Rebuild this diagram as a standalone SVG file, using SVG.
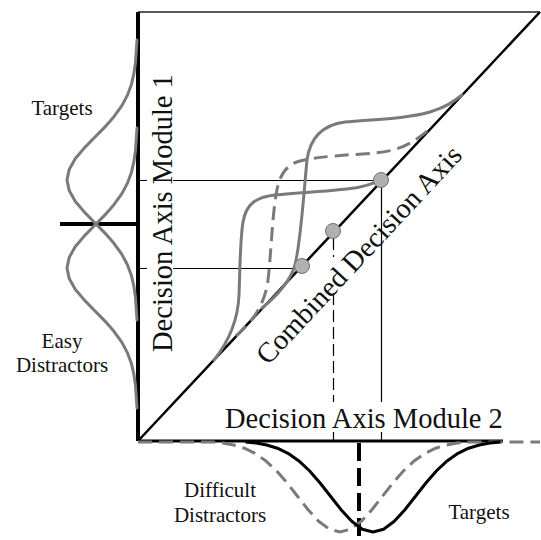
<svg xmlns="http://www.w3.org/2000/svg" width="541" height="540" viewBox="0 0 541 540">
<style>
.g{fill:none;stroke:#7a7a7a;stroke-width:3;stroke-linejoin:round;stroke-linecap:round}
.gd{fill:none;stroke:#7a7a7a;stroke-width:3;stroke-dasharray:14 7}
.thin{fill:none;stroke:#000;stroke-width:1.2}
.lbl{font-family:"Liberation Serif","Times New Roman",serif;fill:#111}
.s{font-size:21px}
.L{font-size:28.5px}
.dot{fill:#b0b0b0;stroke:#707070;stroke-width:1}
</style>
<rect width="541" height="540" fill="#fff"/>
<g id="guides">
<path class="thin" d="M138,180.5H381M138,268.5H302"/>
<path class="thin" d="M381.5,180V441"/>
<path class="thin" d="M333.5,238V257M333.5,293V441" stroke-dasharray="12 5"/>
</g>
<g id="frame">
<path d="M138,12H540" stroke="#222" stroke-width="1.5" fill="none"/>
<path d="M138,441L540,12" stroke="#000" stroke-width="2.5" fill="none"/>
<path d="M138,12V441" stroke="#000" stroke-width="4" fill="none"/>
<path d="M138,441H503" stroke="#000" stroke-width="3" fill="none"/>
<path d="M60,224H138" stroke="#000" stroke-width="4" fill="none"/>
<path d="M359,443V540" stroke="#000" stroke-width="4" stroke-dasharray="18 7" fill="none"/>
</g>
<g id="left-distributions">
<polyline id="targets-left" class="g" points="137,40 136.2,52.5 135.4,63.1 133.9,73.7 131.4,84.4 127.5,95 121.9,105.6 114.3,116.2 105,126.9 94.5,137.5 84.2,148.1 75.2,158.7 69.2,169.4 67,180 69.2,190.6 75.2,201.3 84.2,211.9 94.5,222.5 105,233.1 114.3,243.8 121.9,254.4 127.5,265 131.4,275.6 133.9,286.3 135.4,296.9 136.2,307.5 137,320"/>
<polyline id="easy-distractors" class="g" points="137,128 136.2,140.5 135.4,151.1 133.9,161.7 131.4,172.4 127.5,183 121.9,193.6 114.3,204.2 105,214.9 94.5,225.5 84.2,236.1 75.2,246.7 69.2,257.4 67,268 69.2,278.6 75.2,289.3 84.2,299.9 94.5,310.5 105,321.1 114.3,331.8 121.9,342.4 127.5,353 131.4,363.6 133.9,374.3 135.4,384.9 136.2,395.5 137,408"/>
</g>
<g id="bottom-distributions">
<polyline id="difficult-distractors" class="gd" points="138,442 200,442 212.5,442 223.1,443.1 233.7,445 244.4,448.2 255,453.3 265.6,460.7 276.2,470.5 286.9,482.7 297.5,496.2 308.1,509.7 318.7,521.3 329.4,529.2 340,532 350.6,529.2 361.3,521.3 371.9,509.7 382.5,496.2 393.1,482.7 403.8,470.5 414.4,460.7 425,453.3 435.6,448.2 446.3,445 456.9,443.1 467.5,442 540,442"/>
<polyline id="targets-bottom" fill="none" stroke="#000" stroke-width="3" stroke-linejoin="round" points="245.5,442 256.1,443.1 266.7,445 277.4,448.2 288,453.3 298.6,460.7 309.2,470.5 319.9,482.7 330.5,496.2 341.1,509.7 351.7,521.3 362.4,529.2 373,532 383.6,529.2 394.3,521.3 404.9,509.7 415.5,496.2 426.1,482.7 436.8,470.5 447.4,460.7 458,453.3 468.6,448.2 479.3,445 489.9,443.1 500.5,442"/>
</g>
<g id="combined-curves">
<path id="curve-a" class="g" d="M214,360 C230,340 238,320 239,295 C240,270 240,240 243,222 C246,204 256,197 275,195 C305,192 340,191 360,187 C370,185 376,182 382,180"/>
<path id="curve-c" class="gd" d="M236,336 C252,322 265,305 268,280 C271,255 272,220 276,195 C279,176 285,165 300,161 C320,156 350,155 375,153 C400,151 415,142 432,127"/>
<path id="curve-b" class="g" d="M262,308 C278,295 290,282 295,265 C301,240 304,190 307,160 C310,138 322,125 345,122 C380,119 410,118 430,112 C445,107 452,103 462,95"/>
</g>
<g id="points">
<circle class="dot" cx="302" cy="266" r="7.5"/>
<circle class="dot" cx="333" cy="231" r="7.5"/>
<circle class="dot" cx="381" cy="180" r="7.5"/>
</g>
<g id="labels">
<rect x="147" y="70" width="26" height="286" fill="#fff"/>
<rect x="222" y="402" width="290" height="30" fill="#fff"/>
<text class="lbl L" transform="translate(172,352) rotate(-90)">Decision Axis Module 1</text>
<text class="lbl L" x="225" y="428">Decision Axis Module 2</text>
<text class="lbl L" transform="translate(268,366) rotate(-47)">Combined Decision Axis</text>
<text class="lbl s" x="62" y="115" text-anchor="middle">Targets</text>
<text class="lbl s" x="62" y="348" text-anchor="middle">Easy</text>
<text class="lbl s" x="62" y="372" text-anchor="middle">Distractors</text>
<text class="lbl s" x="220" y="497" text-anchor="middle">Difficult</text>
<text class="lbl s" x="220" y="522" text-anchor="middle">Distractors</text>
<text class="lbl s" x="479" y="519" text-anchor="middle">Targets</text>
</g>
</svg>
